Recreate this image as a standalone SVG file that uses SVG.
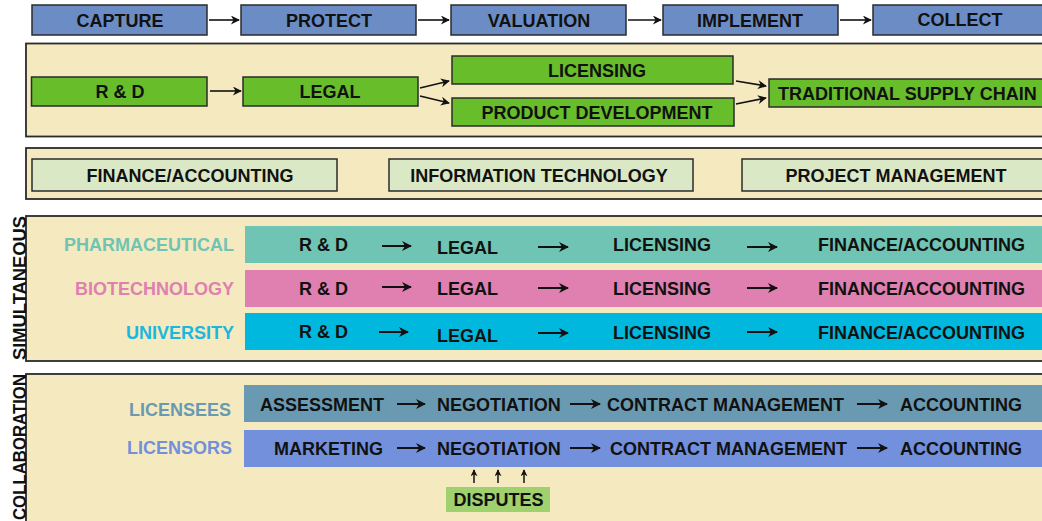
<svg xmlns="http://www.w3.org/2000/svg" width="1042" height="521" viewBox="0 0 1042 521">
<defs>
<style>
text{font-family:"Liberation Sans",Arial,sans-serif;font-weight:bold;font-size:18px;fill:#111}
.c{text-anchor:middle}
.r{text-anchor:end}
.blue{fill:#6b8cc5;stroke:#2b2b2b;stroke-width:1.5}
.green{fill:#67bd2a;stroke:#2b2b2b;stroke-width:1.5}
.lg{fill:#dbe8c5;stroke:#2b2b2b;stroke-width:1.5}
.panel{fill:#f5e9bf;stroke:#2b2b2b;stroke-width:1.8}
.con{stroke:#111;stroke-width:1.6;fill:none;marker-end:url(#ah)}
.bcon{stroke:#111;stroke-width:2;fill:none;marker-end:url(#ahb)}
.ucon{stroke:#111;stroke-width:1.5;fill:none;marker-end:url(#ahs)}
</style>
<marker id="ah" viewBox="0 0 10 10" refX="9" refY="5" markerWidth="10" markerHeight="9" orient="auto" markerUnits="userSpaceOnUse"><path d="M0,0 L10,5 L0,10 L3,5 z" fill="#111"/></marker>
<marker id="ahb" viewBox="0 0 10 10" refX="9" refY="5" markerWidth="11" markerHeight="10" orient="auto" markerUnits="userSpaceOnUse"><path d="M0,0 L10,5 L0,10 L3,5 z" fill="#111"/></marker>
<marker id="ahs" viewBox="0 0 10 10" refX="9" refY="5" markerWidth="7" markerHeight="7" orient="auto" markerUnits="userSpaceOnUse"><path d="M0,0 L10,5 L0,10 L3,5 z" fill="#111"/></marker>
</defs>
<rect width="1042" height="521" fill="#ffffff"/>

<!-- panels -->
<rect id="panel-flow" class="panel" x="26" y="43.5" width="1030" height="93"/>
<rect id="panel-support" class="panel" x="26" y="148" width="1030" height="51"/>
<rect id="panel-simultaneous" class="panel" x="26" y="216" width="1030" height="145"/>
<rect id="panel-collaboration" class="panel" x="26" y="374" width="1030" height="160"/>

<!-- row 1 -->
<g id="capture"><rect class="blue" x="32" y="5" width="175" height="30"/><text class="c" x="120" y="27">CAPTURE</text></g>
<g id="protect"><rect class="blue" x="241" y="5" width="175" height="30"/><text class="c" x="329" y="27">PROTECT</text></g>
<g id="valuation"><rect class="blue" x="451" y="5" width="175" height="30"/><text class="c" x="539" y="27">VALUATION</text></g>
<g id="implement"><rect class="blue" x="663" y="5" width="175" height="30"/><text class="c" x="750" y="27">IMPLEMENT</text></g>
<g id="collect"><rect class="blue" x="873" y="5" width="180" height="30"/><text class="c" x="960" y="26">COLLECT</text></g>

<!-- row 2 -->
<g id="rd"><rect class="green" x="31.5" y="77" width="175.5" height="29"/><text class="c" x="120" y="98">R &amp; D</text></g>
<g id="legal"><rect class="green" x="243" y="77" width="175" height="29"/><text class="c" x="330" y="98">LEGAL</text></g>
<g id="licensing"><rect class="green" x="452" y="56" width="281" height="28"/><text class="c" x="597" y="77">LICENSING</text></g>
<g id="product-development"><rect class="green" x="452" y="98" width="282" height="28"/><text class="c" x="597" y="119">PRODUCT DEVELOPMENT</text></g>
<g id="traditional-supply-chain"><rect class="green" x="769" y="79" width="290" height="28"/><text x="778" y="100">TRADITIONAL SUPPLY CHAIN</text></g>

<!-- row 3 -->
<g id="finance-accounting"><rect class="lg" x="32" y="159" width="305" height="32"/><text class="c" x="190" y="182">FINANCE/ACCOUNTING</text></g>
<g id="information-technology"><rect class="lg" x="389" y="159" width="304" height="32"/><text class="c" x="539" y="182">INFORMATION TECHNOLOGY</text></g>
<g id="project-management"><rect class="lg" x="742" y="159" width="310" height="32"/><text class="c" x="896" y="182">PROJECT MANAGEMENT</text></g>

<!-- simultaneous -->
<text id="label-simultaneous" transform="translate(25.5,360) rotate(-90)" x="0" y="0" textLength="144" lengthAdjust="spacingAndGlyphs">SIMULTANEOUS</text>
<g id="pharmaceutical">
<rect x="245" y="226" width="810" height="37" fill="#6fc4b3"/>
<text class="r" x="234" y="251" style="fill:#6fc4b3">PHARMACEUTICAL</text>
<text x="299" y="251">R &amp; D</text><text x="437" y="254">LEGAL</text><text x="613" y="251">LICENSING</text><text x="818" y="251">FINANCE/ACCOUNTING</text>
</g>
<g id="biotechnology">
<rect x="245" y="270" width="810" height="37" fill="#df80b0"/>
<text class="r" x="234" y="295" style="fill:#df80b0">BIOTECHNOLOGY</text>
<text x="299" y="295">R &amp; D</text><text x="437" y="295">LEGAL</text><text x="613" y="295">LICENSING</text><text x="818" y="295">FINANCE/ACCOUNTING</text>
</g>
<g id="university">
<rect x="245" y="313" width="810" height="37" fill="#00b8dd"/>
<text class="r" x="234" y="339" style="fill:#1ab8dd">UNIVERSITY</text>
<text x="299" y="338">R &amp; D</text><text x="437" y="342">LEGAL</text><text x="613" y="339">LICENSING</text><text x="818" y="339">FINANCE/ACCOUNTING</text>
</g>

<!-- collaboration -->
<text id="label-collaboration" transform="translate(25.5,520) rotate(-90)" x="0" y="0" textLength="146" lengthAdjust="spacingAndGlyphs">COLLABORATION</text>
<g id="licensees">
<rect x="244" y="385" width="812" height="37" fill="#6a9ab1"/>
<text class="r" x="231" y="416" style="fill:#6a9ab1">LICENSEES</text>
<text x="260" y="411">ASSESSMENT</text><text x="437" y="411">NEGOTIATION</text><text x="607" y="411">CONTRACT MANAGEMENT</text><text x="900" y="411">ACCOUNTING</text>
</g>
<g id="licensors">
<rect x="244" y="430" width="812" height="37" fill="#7290db"/>
<text class="r" x="232" y="454" style="fill:#7290db">LICENSORS</text>
<text x="274" y="455">MARKETING</text><text x="437" y="455">NEGOTIATION</text><text x="610" y="455">CONTRACT MANAGEMENT</text><text x="900" y="455">ACCOUNTING</text>
</g>
<g id="disputes">
<rect x="446" y="487" width="104" height="25" fill="#9fd26e"/>
<text class="c" x="498.5" y="506">DISPUTES</text>
</g>

<!-- connectors -->
<g id="connectors">
<line class="con" x1="209" y1="20" x2="239" y2="20"/>
<line class="con" x1="418" y1="20" x2="449" y2="20"/>
<line class="con" x1="628" y1="20" x2="661" y2="20"/>
<line class="con" x1="840" y1="20" x2="871" y2="20"/>
<line class="con" x1="210" y1="91" x2="241" y2="91"/>
<line class="con" x1="420" y1="88" x2="449" y2="81"/>
<line class="con" x1="420" y1="96" x2="449" y2="103"/>
<line class="con" x1="736" y1="81" x2="766" y2="86"/>
<line class="con" x1="736" y1="104" x2="766" y2="98"/>

<line class="bcon" x1="382" y1="246" x2="411" y2="246"/>
<line class="bcon" x1="538" y1="247" x2="568" y2="247"/>
<line class="bcon" x1="747" y1="247" x2="777" y2="247"/>
<line class="bcon" x1="382" y1="287" x2="411" y2="287"/>
<line class="bcon" x1="538" y1="288" x2="568" y2="288"/>
<line class="bcon" x1="747" y1="288" x2="777" y2="288"/>
<line class="bcon" x1="379" y1="332" x2="408" y2="332"/>
<line class="bcon" x1="538" y1="333" x2="568" y2="333"/>
<line class="bcon" x1="747" y1="332" x2="777" y2="332"/>

<line class="bcon" x1="397" y1="404" x2="425" y2="404"/>
<line class="bcon" x1="570" y1="404" x2="600" y2="404"/>
<line class="bcon" x1="857" y1="404" x2="887" y2="404"/>
<line class="bcon" x1="397" y1="448" x2="425" y2="448"/>
<line class="bcon" x1="570" y1="448" x2="600" y2="448"/>
<line class="bcon" x1="857" y1="448" x2="887" y2="448"/>

<line class="ucon" x1="474" y1="483" x2="474" y2="470"/>
<line class="ucon" x1="498" y1="483" x2="498" y2="470"/>
<line class="ucon" x1="524" y1="483" x2="524" y2="470"/>
</g>
</svg>
